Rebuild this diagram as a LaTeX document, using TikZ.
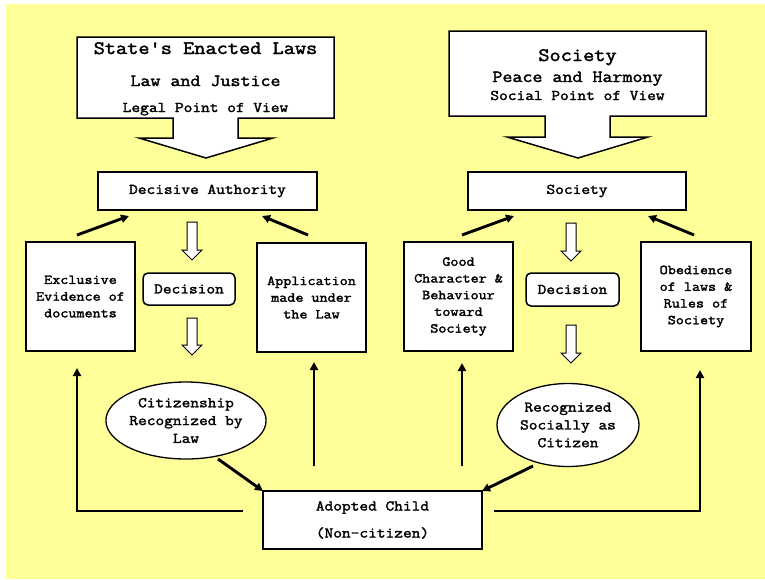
\documentclass[tikz,border=0pt]{standalone}
\usepackage{fontspec}
\newfontfamily\cour{Latin Modern Mono}[FakeStretch=1.143,FakeBold=2]
\usetikzlibrary{arrows.meta,shapes.geometric}
\definecolor{bgyellow}{HTML}{FFFF99}
\newcommand{\fsz}[2]{\cour\fontsize{#1}{#2}\selectfont}
\tikzset{
  boxline/.style={draw=black,line width=1.5pt,fill=white},
  sqbox/.style={boxline,rectangle,inner sep=0pt,align=center,font=\fsz{13.7}{16.7}},
  decbox/.style={boxline,rectangle,rounded corners=5pt,inner sep=0pt,minimum width=92pt,minimum height=32pt,font=\fsz{14.8}{18}},
  oval/.style={draw=black,line width=1.3pt,fill=white,ellipse,inner sep=0pt,align=center,font=\fsz{14.8}{17.8}},
  conn/.style={line width=2.9pt,-{Triangle[length=8pt,width=8pt]}},
  hollow/.style={draw=black,line width=1pt,fill=white},
  ttl/.style={anchor=base,inner sep=0pt}
}
\begin{document}
\begin{tikzpicture}[x=1pt,y=-1pt]
\useasboundingbox (0,0) rectangle (765,579);
\fill[bgyellow] (6,4) rectangle (765,579);

% top left block with arrow
\draw[boxline,line join=miter] (77,37) -- (334,37) -- (334,118) -- (238,118) -- (238,138) -- (273,138) -- (206,158) -- (139,138) -- (173,138) -- (173,118) -- (77,118) -- cycle;
\node[ttl,font=\fsz{19}{22}] (t1a) at (205.5,54) {State's Enacted Laws};
\node[ttl,font=\fsz{17}{20}] (t1b) at (205.5,86) {Law and Justice};
\node[ttl,font=\fsz{14.8}{18}] (t1c) at (205.5,112) {Legal Point of View};

% top right block with arrow
\draw[boxline,line join=miter] (449,31) -- (706,31) -- (706,116) -- (610,116) -- (610,137) -- (648,137) -- (578,158) -- (507,137) -- (545,137) -- (545,116) -- (449,116) -- cycle;
\node[ttl,font=\fsz{19}{22}] (t2a) at (577.5,61) {Society};
\node[ttl,font=\fsz{17}{20}] (t2b) at (577.5,82) {Peace and Harmony};
\node[ttl,font=\fsz{14.8}{18}] (t2c) at (577.5,100) {Social Point of View};

% authority boxes
\node[sqbox,font=\fsz{14.8}{18},minimum width=219pt,minimum height=38pt] (da) at (207.5,191) {Decisive Authority};
\node[sqbox,font=\fsz{14.8}{18},minimum width=218pt,minimum height=38pt] (soc) at (577,191) {Society};

% second row
\node[sqbox,minimum width=109pt,minimum height=109pt] (ex) at (80.5,296.5) {Exclusive\\Evidence of\\documents};
\node[sqbox,minimum width=109pt,minimum height=109pt] (app) at (311.5,297.5) {Application\\made under\\the Law};
\node[sqbox,minimum width=109pt,minimum height=109pt] (good) at (458.5,296.5) {Good\\Character \&\\Behaviour\\toward\\Society};
\node[sqbox,minimum width=110pt,minimum height=109pt] (obe) at (696,296.5) {Obedience\\of laws \&\\Rules of\\Society};
\node[decbox] (dec1) at (189,289) {Decision};
\node[decbox,minimum width=93pt,minimum height=33pt] (dec2) at (572.5,289.5) {Decision};

% ellipses
\node[oval,minimum width=142pt,minimum height=77pt] (ell1) at (186,420.5) {Citizenship\\Recognized by\\Law};
\node[oval,minimum width=142pt,minimum height=83pt] (ell2) at (568,425) {Recognized\\Socially as\\Citizen};

% adopted child
\node[sqbox,font=\fsz{14.8}{27},minimum width=219pt,minimum height=58pt] (child) at (372.5,520) {Adopted Child\\(Non-citizen)};

% hollow arrows
\draw[hollow] (187,222) -- (197,222) -- (197,250) -- (202,250) -- (192,260) -- (182,250) -- (187,250) -- cycle;
\draw[hollow] (187,318) -- (197,318) -- (197,345) -- (202,345) -- (192,355) -- (182,345) -- (187,345) -- cycle;
\draw[hollow] (566,223) -- (576,223) -- (576,251) -- (581,251) -- (571,261) -- (561,251) -- (566,251) -- cycle;
\draw[hollow] (566,325) -- (576,325) -- (576,353) -- (581,353) -- (571,363) -- (561,353) -- (566,353) -- cycle;

% coordinates for connector ends
\coordinate (exA) at (77,235);   \coordinate (daL) at (129,216);
\coordinate (appA) at (308,235); \coordinate (daR) at (262,216);
\coordinate (goodA) at (462,235); \coordinate (socL) at (514,216);
\coordinate (obeA) at (694,235); \coordinate (socR) at (648,216);
\coordinate (cl) at (243,511); \coordinate (clc) at (77,511); \coordinate (exB) at (77,368);
\coordinate (appS) at (314,466); \coordinate (appB) at (314,362);
\coordinate (goodS) at (462,466); \coordinate (goodB) at (462,363);
\coordinate (cr) at (494,511); \coordinate (crc) at (700,511); \coordinate (obeB) at (700,370);
\coordinate (e1s) at (218,459); \coordinate (chL) at (263,491);
\coordinate (e2s) at (533,466); \coordinate (chR) at (482,491);

\draw[conn] (exA) -- (daL);
\draw[conn] (appA) -- (daR);
\draw[conn] (goodA) -- (socL);
\draw[conn] (obeA) -- (socR);
\draw[conn,line join=miter] (cl) -- (clc) -- (exB);
\draw[conn] (appS) -- (appB);
\draw[conn] (goodS) -- (goodB);
\draw[conn,line join=miter] (cr) -- (crc) -- (obeB);
\draw[conn] (e1s) -- (chL);
\draw[conn] (e2s) -- (chR);
\end{tikzpicture}
\end{document}
